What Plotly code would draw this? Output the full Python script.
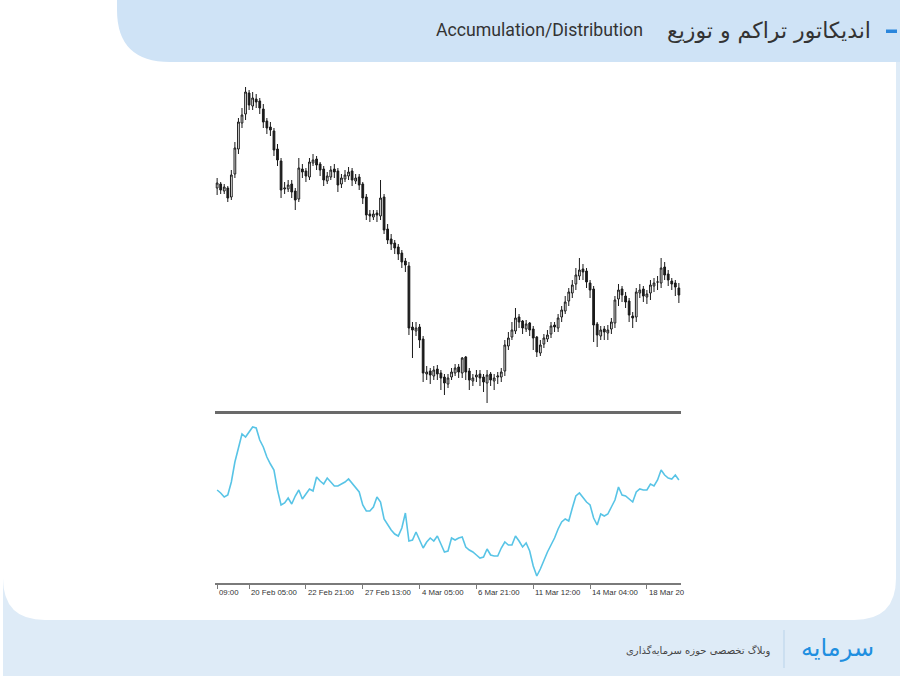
import plotly.graph_objects as go

# ---------------- data (arbitrary price / A-D units) ----------------
bar_index = list(range(131))

open_ = [232,236,229,232,223,246,271,297,306,327,
         314,321,319,311,299,293,289,271,259,231,
         231,236,229,221,251,249,243,257,261,256,
         251,239,243,251,249,236,241,244,249,239,
         243,236,223,206,203,207,204,223,191,181,
         177,173,167,159,154,93,89,93,81,46,
         49,44,51,47,43,36,43,47,53,47,
         63,49,39,43,46,43,37,46,39,43,
         43,49,74,83,89,103,99,91,97,91,
         83,67,76,81,86,95,92,103,109,119,
         127,136,144,151,149,137,131,96,84,91,
         87,91,97,121,131,124,119,104,103,127,
         131,123,127,134,138,137,153,146,139,137,
         132]
high = [242,238,236,234,250,278,302,312,333,330,
        328,326,322,316,302,298,292,276,262,238,
        240,240,232,262,256,252,262,266,264,258,
        254,248,254,256,252,246,250,253,252,246,
        246,238,226,210,210,210,240,226,196,186,
        180,176,170,162,158,98,98,96,84,54,
        52,54,55,50,46,46,52,56,56,63,
        64,52,46,50,50,46,50,48,46,48,
        52,80,88,98,112,106,100,100,98,94,
        84,80,86,90,98,98,106,114,124,132,
        140,152,162,156,152,140,134,98,94,94,
        95,102,124,136,134,128,122,108,132,136,
        134,130,140,142,144,162,158,150,142,140,
        137]
low = [225,226,226,218,220,242,266,292,300,310,
       310,312,306,292,286,284,264,254,222,226,
       228,222,210,218,242,238,240,254,250,244,
       234,236,240,242,228,232,238,240,234,236,
       230,216,200,198,200,198,200,186,176,170,
       166,160,152,148,85,62,84,72,38,40,
       36,40,40,30,25,32,40,44,42,42,
       40,30,34,38,34,28,17,34,30,36,
       38,44,70,80,86,92,86,88,84,70,
       63,64,72,78,82,88,88,98,106,114,
       122,130,140,140,132,122,78,73,80,80,
       80,86,92,114,118,112,98,92,98,122,
       118,116,120,128,130,132,140,134,130,124,
       117]
close = [237,230,233,222,245,272,298,305,328,315,
         322,318,312,298,292,290,270,260,230,232,
         235,228,220,252,248,244,258,260,255,250,
         240,244,250,248,235,242,245,248,240,242,
         235,222,205,204,206,205,222,190,180,176,
         172,166,158,155,92,90,92,80,47,48,
         45,50,46,42,37,42,48,52,48,62,
         48,40,42,45,42,38,45,40,42,44,
         48,75,82,90,102,98,92,96,90,82,
         68,75,82,85,94,93,102,110,118,128,
         135,145,150,148,138,130,95,85,90,88,
         90,98,120,130,125,118,105,102,128,130,
         124,126,135,137,138,152,145,140,136,133,
         125]

ad_values = [110,107,103,105,118,138,152,166,163,168,
             173,172,160,153,143,136,130,110,95,97,
             102,96,104,110,101,106,111,109,123,119,
             116,122,118,114,114,116,118,121,117,113,
             108,95,89,89,93,103,98,81,75,70,
             66,64,72,87,59,60,68,59,52,58,
             62,59,64,56,48,49,62,60,62,63,
             53,50,48,45,42,43,51,45,44,44,
             52,58,55,55,64,59,53,57,49,34,
             24,31,40,48,55,62,71,78,81,79,
             92,104,107,102,98,95,82,75,86,84,
             86,93,100,113,105,104,101,98,108,111,
             110,110,116,114,120,130,125,122,121,125,
             120]

tick_bars = [0, 9, 25, 41, 57, 73, 89, 105, 121]
tick_labels = ["09:00", "20 Feb 05:00", "22 Feb 21:00", "27 Feb 13:00", "4 Mar 05:00",
               "6 Mar 21:00", "11 Mar 12:00", "14 Mar 04:00", "18 Mar 20"]

title_fa = "اندیکاتور تراکم و توزیع"
title_en = "Accumulation/Distribution"
footer_text = "وبلاگ تخصصی حوزه سرمایه‌گذاری"
logo_text = "سرمایه"

# ---------------- layout helpers ----------------
W, H = 900, 679
def fx(x): return x / W
def fy(y): return 1 - y / H

HEADER = "#cfe3f6"
FOOTER = "#deebf7"

fig = go.Figure()

fig.add_trace(go.Candlestick(
    x=bar_index, open=open_, high=high, low=low, close=close,
    xaxis="x", yaxis="y",
    increasing=dict(fillcolor="#ffffff", line=dict(color="#1a1a1a", width=1)),
    decreasing=dict(fillcolor="#1a1a1a", line=dict(color="#1a1a1a", width=1)),
    whiskerwidth=0, showlegend=False, hoverinfo="skip",
))

fig.add_trace(go.Scatter(
    x=bar_index, y=ad_values, mode="lines", xaxis="x2", yaxis="y2",
    line=dict(color="#58c4e6", width=1.6), showlegend=False, hoverinfo="skip",
))

xdom = [fx(215), fx(681)]
xr = [-0.6, 130.6]

shapes = [
    dict(type="rect", xref="paper", yref="paper", x0=fx(3), x1=fx(900), y0=fy(676), y1=fy(560),
         fillcolor=FOOTER, line=dict(width=0), layer="below"),
    dict(type="rect", xref="paper", yref="paper", x0=fx(896), x1=fx(900), y0=fy(676), y1=fy(62),
         fillcolor=FOOTER, line=dict(width=0), layer="below"),
    dict(type="path", xref="paper", yref="paper",
         path=(f"M {fx(3)},{fy(555)} L {fx(896)},{fy(555)} L {fx(896)},{fy(578)} "
               f"Q {fx(896)},{fy(620)} {fx(854)},{fy(620)} L {fx(45)},{fy(620)} "
               f"Q {fx(3)},{fy(620)} {fx(3)},{fy(578)} Z"),
         fillcolor="#ffffff", line=dict(width=0), layer="below"),
    dict(type="path", xref="paper", yref="paper",
         path=(f"M {fx(117)},{fy(0)} L {fx(900)},{fy(0)} L {fx(900)},{fy(62)} "
               f"L {fx(170)},{fy(62)} Q {fx(117)},{fy(62)} {fx(117)},{fy(10)} Z"),
         fillcolor=HEADER, line=dict(width=0), layer="below"),
    dict(type="rect", xref="paper", yref="paper", x0=fx(886), x1=fx(897), y0=fy(33), y1=fy(29.5),
         fillcolor="#2a86dc", line=dict(width=0), layer="above"),
    dict(type="line", xref="paper", yref="paper", x0=fx(215), x1=fx(681), y0=fy(412.5), y1=fy(412.5),
         line=dict(color="#6a6a6a", width=3), layer="above"),
    dict(type="line", xref="paper", yref="paper", x0=fx(784), x1=fx(784), y0=fy(630), y1=fy(668),
         line=dict(color="#b9d3ea", width=1), layer="above"),
]

annotations = [
    dict(text=title_fa, xref="paper", yref="paper", x=fx(873), y=fy(31), xanchor="right", yanchor="middle",
         showarrow=False, font=dict(family="DejaVu Sans", size=22, color="#333333")),
    dict(text=title_en, xref="paper", yref="paper", x=fx(645), y=fy(30), xanchor="right", yanchor="middle",
         showarrow=False, font=dict(family="Roboto", size=17.7, color="#333333")),
    dict(text=footer_text, xref="paper", yref="paper", x=fx(772), y=fy(650), xanchor="right", yanchor="middle",
         showarrow=False, font=dict(family="DejaVu Sans", size=10, color="#444444")),
    dict(text=logo_text, xref="paper", yref="paper", x=fx(876), y=fy(648), xanchor="right", yanchor="middle",
         showarrow=False, font=dict(family="DejaVu Sans", size=24, color="#1f8fe0")),
]
# time labels placed right of each tick, as in the terminal's time scale
for tb, tl in zip(tick_bars, tick_labels):
    annotations.append(dict(text=tl, xref="x2", yref="paper", x=tb, y=fy(592.5), xanchor="left",
                            yanchor="middle", xshift=1, showarrow=False, borderpad=0,
                            font=dict(family="Liberation Sans", size=7.8, color="#333333")))

fig.update_layout(
    width=W, height=H,
    margin=dict(l=0, r=0, t=0, b=0),
    paper_bgcolor="#ffffff", plot_bgcolor="rgba(0,0,0,0)",
    xaxis=dict(domain=xdom, range=xr, visible=False, rangeslider=dict(visible=False), anchor="y"),
    yaxis=dict(domain=[fy(405), fy(75)], range=[15, 345], visible=False, anchor="x"),
    xaxis2=dict(domain=xdom, range=xr, anchor="y2", showline=True, linecolor="#7a7a7a", linewidth=2,
                ticks="outside", ticklen=4, tickcolor="#7a7a7a", tickwidth=1,
                tickmode="array", tickvals=tick_bars, showticklabels=False,
                showgrid=False, zeroline=False),
    yaxis2=dict(domain=[fy(583), fy(415)], range=[17, 185], visible=False, anchor="x2"),
    shapes=shapes, annotations=annotations,
)

fig.write_html("out.html")
